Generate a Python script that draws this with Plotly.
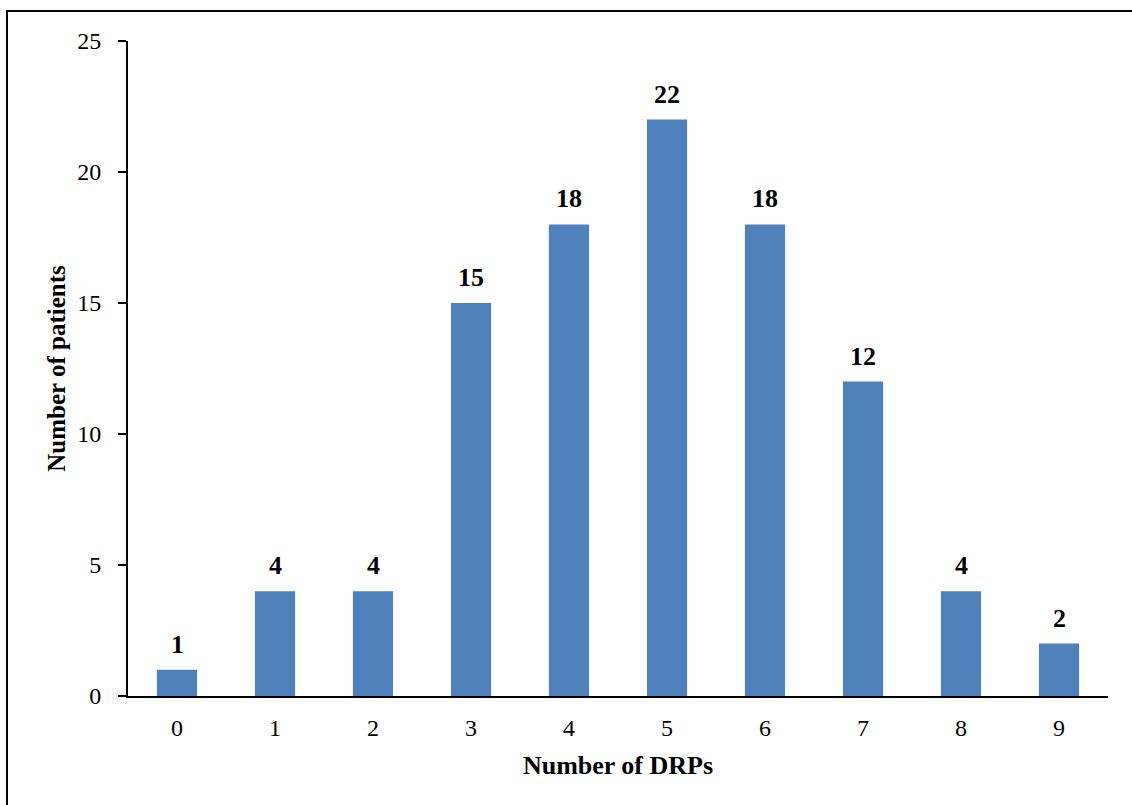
import plotly.graph_objects as go

categories = ["0", "1", "2", "3", "4", "5", "6", "7", "8", "9"]
patients = [1, 4, 4, 15, 18, 22, 18, 12, 4, 2]
y_ticks = [0, 5, 10, 15, 20, 25]

L, R, T, B = 128, 24, 41, 109
W, H = 1132, 805
pw = W - L - R
ph = H - T - B

fig = go.Figure(go.Bar(
    x=categories, y=patients,
    marker=dict(color="#4F81BD", line=dict(width=0)),
    hoverinfo="x+y",
))

for c, v in zip(categories, patients):
    fig.add_annotation(
        x=c, y=v, text=f"<b>{v}</b>", showarrow=False,
        yanchor="bottom", yshift=9,
        font=dict(family="Liberation Serif", size=26, color="black"),
    )

fig.update_layout(
    width=W, height=H,
    margin=dict(l=L, r=R, t=T, b=B),
    paper_bgcolor="white", plot_bgcolor="white",
    bargap=0.59,
    showlegend=False,
    font=dict(family="Liberation Serif", size=24, color="black"),
    xaxis=dict(
        type="category",
        showline=True, linecolor="black", linewidth=2,
        ticks="", showgrid=False,
        tickfont=dict(size=24),
        ticklabelstandoff=9,
        title=dict(text="<b>Number of DRPs</b>", font=dict(size=26), standoff=16),
    ),
    yaxis=dict(
        range=[0, 25],
        tickvals=y_ticks,
        showline=True, linecolor="black", linewidth=2,
        ticks="outside", ticklen=8, tickwidth=2, tickcolor="black",
        ticklabelstandoff=12,
        showgrid=False, zeroline=False,
        tickfont=dict(size=24),
        title=dict(text="<b>Number of patients</b>", font=dict(size=25), standoff=4),
    ),
    shapes=[dict(
        type="rect", xref="paper", yref="paper",
        x0=(7 - L) / pw, x1=(W + 20 - L) / pw,
        y0=-(H + 20 - T - ph) / ph, y1=(H - B - 11) / ph,
        line=dict(color="black", width=2), fillcolor="rgba(0,0,0,0)",
        layer="below",
    )],
)

fig.write_html("out.html", config={"displayModeBar": False},
               post_script="document.body.style.margin='0';")
